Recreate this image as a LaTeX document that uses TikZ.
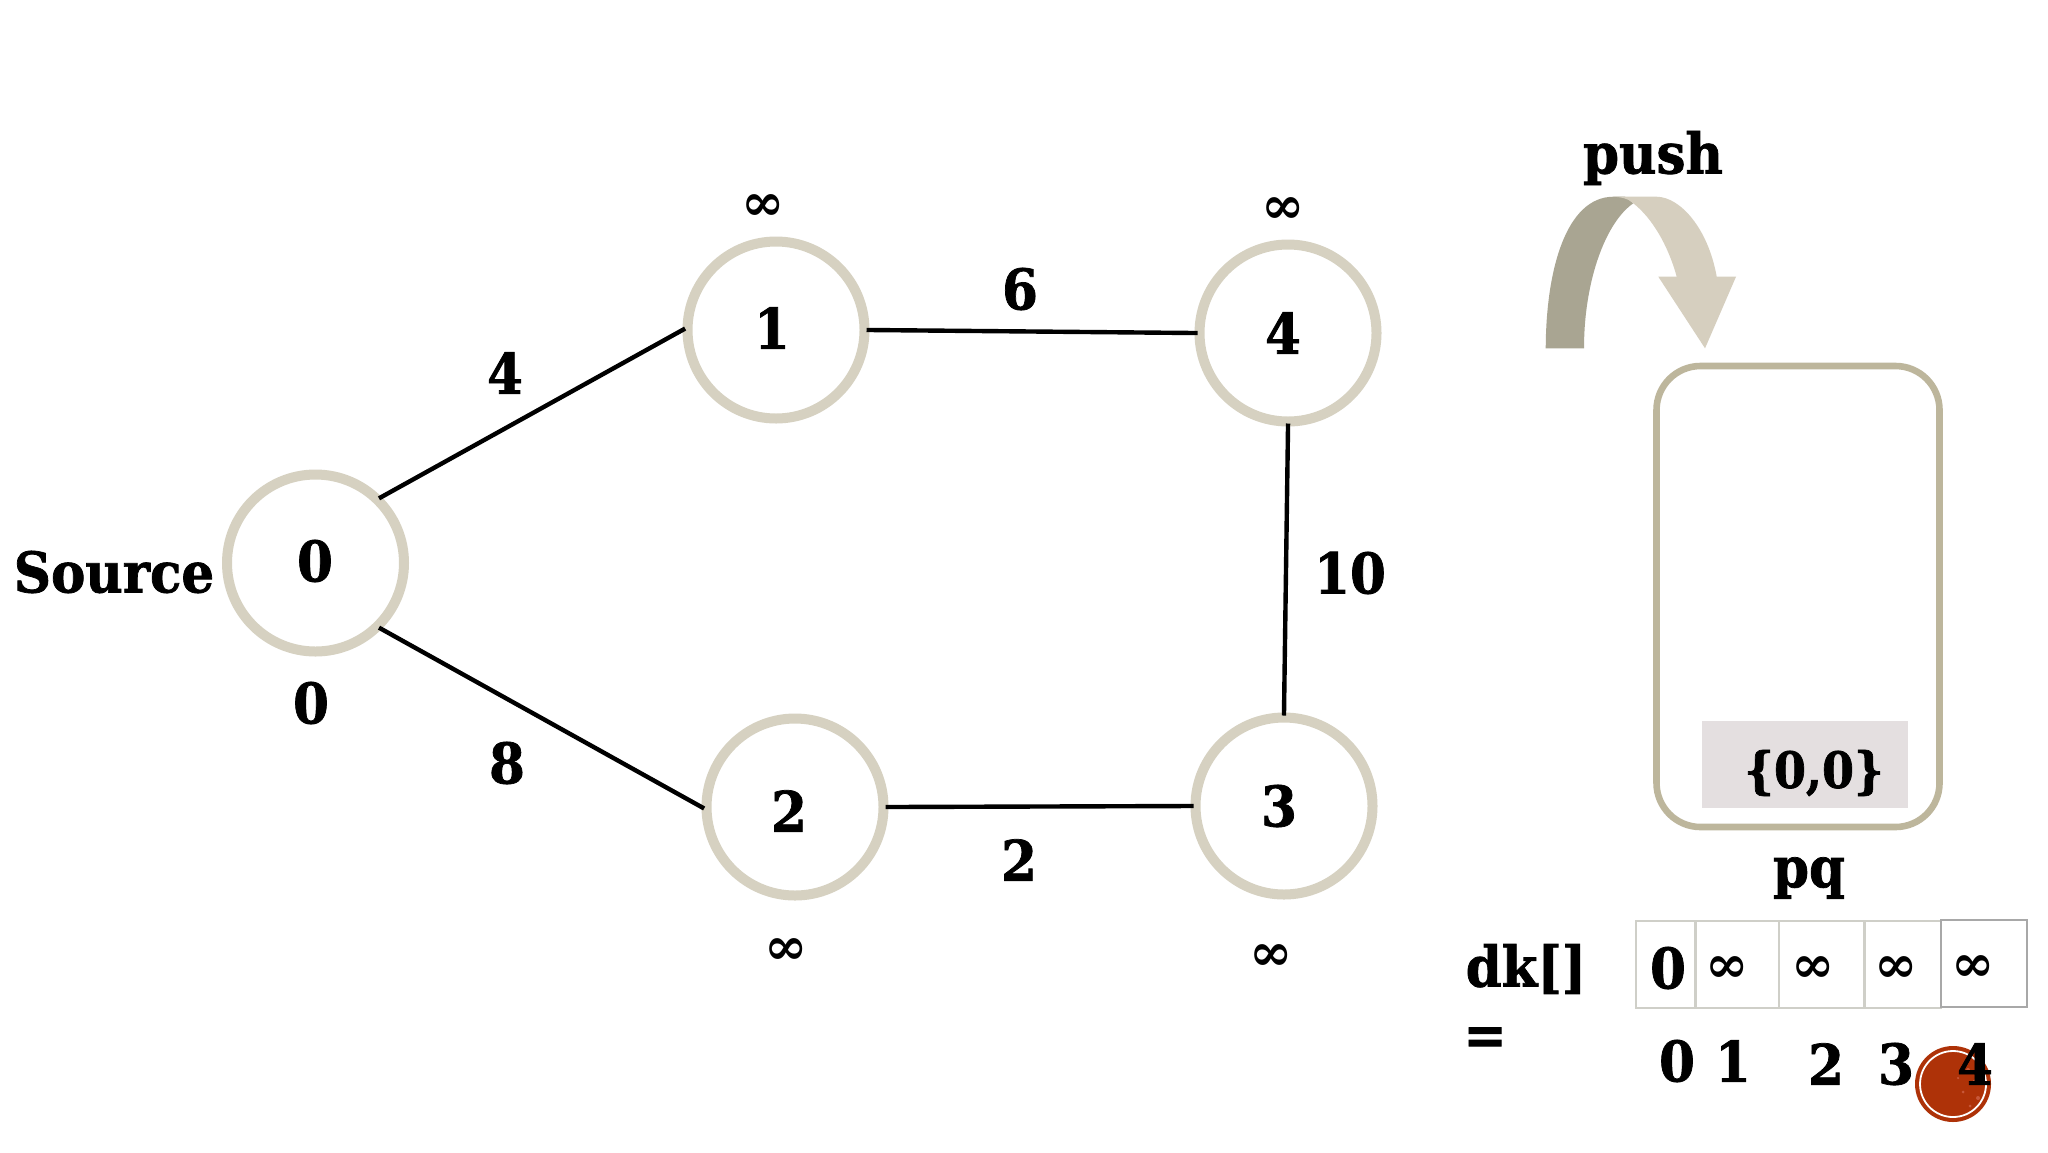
\documentclass[tikz,border=0pt]{standalone}
\usepackage{fontspec}
\newfontfamily\slab{DejaVu Serif Bold}[FakeStretch=0.92,FakeBold=1.3]
\newfontfamily\slabplain{DejaVu Serif Bold}
\definecolor{ringc}{HTML}{D6D1C1}
\definecolor{boxc}{HTML}{BDB69C}
\definecolor{arrowl}{HTML}{D6CFBF}
\definecolor{arrowd}{HTML}{A9A592}
\definecolor{itemc}{HTML}{E4DFE0}
\definecolor{cellc}{HTML}{CFCFC8}
\definecolor{cellk}{HTML}{A8A8A8}
\definecolor{redc}{HTML}{AE3208}
\definecolor{speck}{HTML}{C8583A}
\tikzset{
  vertex/.style={circle,draw=ringc,line width=5pt,minimum size=88.5pt,inner sep=0pt},
  tx/.style={inner sep=0pt,font=\slab\fontsize{28}{30}\selectfont,text=black},
  inf/.style={inner sep=0pt,font=\slabplain\fontsize{26}{28}\selectfont,text=black},
  edge/.style={draw=black,line width=2.2pt,shorten <=-1.5pt,shorten >=-1.5pt},
  cell/.style={draw=cellc,line width=0.6pt,fill=none,minimum height=43.5pt,inner sep=0pt}
}
\begin{document}
\begin{tikzpicture}[x=0.5pt,y=-0.5pt]
\useasboundingbox (0,0) rectangle (2048,1152);
\fill[white] (0,0) rectangle (2048,1152);
% vertices
\node[vertex] (n0) at (315.5,563) {};
\node[vertex] (n1) at (776,330) {};
\node[vertex] (n4) at (1288,333) {};
\node[vertex] (n2) at (795,807) {};
\node[vertex] (n3) at (1284,806) {};
\draw[edge] (n0.45) -- (n1.west);
\draw[edge] (n0.-45) -- (n2.west);
\draw[edge] (n1.east) -- (n4.west);
\draw[edge] (n2.east) -- (n3.west);
\draw[edge] (n4.south) -- (n3.north);
% vertex labels
\node[tx] (t0) at (315,561) {0};
\node[tx] (t1) at (772,328) {1};
\node[tx] (t4) at (1283,333) {4};
\node[tx] (t2) at (789,811) {2};
\node[tx] (t3) at (1279,806) {3};
% edge weights
\node[tx] (w4) at (505,373) {4};
\node[tx] (w6) at (1020,289) {6};
\node[tx] (w8) at (507,763) {8};
\node[tx] (w2) at (1019,860) {2};
\node[tx] (w10) at (1350,573) {10};
% distances
\node[inf] (d1) at (763,208) {∞};
\node[inf] (d4) at (1283,211) {∞};
\node[inf] (d2) at (786,952) {∞};
\node[inf] (d3) at (1271,958) {∞};
\node[tx] (d0) at (311,703) {0};
\node[tx] (src) at (114,572) {Source};
% push arrow
\fill[arrowd] (1545.7,348.3) .. controls (1546,270) and (1566,197) .. (1613.3,196.7)
  -- (1625,196.7) -- (1633.3,203.3) .. controls (1606,222) and (1584,280) .. (1584,348.3) -- cycle;
\fill[arrowl] (1613.3,196.7) -- (1656.7,196.7) .. controls (1680,197) and (1708,228) .. (1716.7,276.7)
  -- (1736,276.7) -- (1705,348.3) -- (1658.3,276.7) -- (1676.7,276.7)
  .. controls (1668,245) and (1652,218) .. (1633.3,203.3) .. controls (1628,198) and (1620,197) .. (1613.3,196.7) -- cycle;
\node[tx] (push) at (1653,158) {push};
% queue
\node[draw=boxc,line width=3.3pt,rounded corners=22pt,minimum width=141.5pt,minimum height=230.5pt,inner sep=0pt] (pqbox) at (1798,596.5) {};
\node[fill=itemc,minimum width=103pt,minimum height=43.5pt,inner sep=0pt] (item) at (1805,764.5) {};
\node[tx,font=\slab\fontsize{25}{27}\selectfont] (itemt) at (1814,773) {\{0,0\}};
\node[tx] (pq) at (1809,878) {pq};
% dk array
\node[tx] (dk) at (1526,969) {dk[]};
\node[tx] (eq) at (1485,1041) {=};
\node[cell,minimum width=29.5pt] (c0) at (1665.5,964.5) {};
\node[cell,minimum width=41.5pt] (c1) at (1737.5,964.5) {};
\node[cell,minimum width=42.5pt] (c2) at (1821.5,964.5) {};
\node[cell,minimum width=38pt] (c3) at (1903,964.5) {};
\node[cell,draw=cellk,minimum width=43pt] (c4) at (1984,963.5) {};
\node[tx] (v0) at (1668,968) {0};
\node[inf] (v1) at (1727,970) {∞};
\node[inf] (v2) at (1813,970) {∞};
\node[inf] (v3) at (1896,970) {∞};
\node[inf] (v4) at (1973,969) {∞};
% bullet
\node[circle,fill=redc,minimum size=38pt,inner sep=0pt] (dot) at (1953,1084) {};
\fill[speck] (1968,1070) circle [radius=2] (1975,1082) circle [radius=2.5] (1963,1092) circle [radius=1.5]
  (1978,1098) circle [radius=2] (1970,1106) circle [radius=1.5] (1982,1075) circle [radius=1.5] (1958,1078) circle [radius=1.2];
\draw[white,line width=0.9pt] (dot.center) circle [radius=33];
% indices
\node[tx] (i0) at (1677,1061) {0};
\node[tx] (i1) at (1733,1061) {1};
\node[tx] (i2) at (1826,1064) {2};
\node[tx] (i3) at (1896,1064) {3};
\node[tx] (i4) at (1975,1064) {4};
\end{tikzpicture}
\end{document}
